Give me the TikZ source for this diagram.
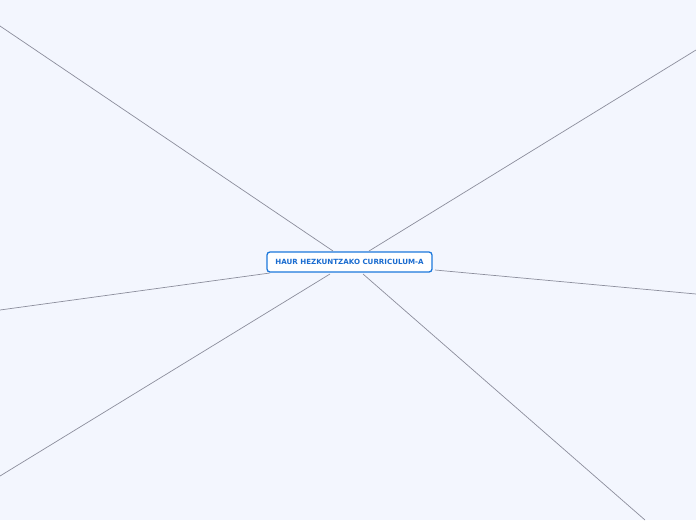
\documentclass[tikz,border=0pt]{standalone}
\usepackage{fontspec}
\setmainfont{DejaVu Sans}
\definecolor{bg}{HTML}{F3F6FE}
\definecolor{nodeblue}{HTML}{1C78DC}
\definecolor{textblue}{HTML}{1A6CD0}
\definecolor{linegray}{HTML}{8C8E9C}
\tikzset{
  mainnode/.style={draw=nodeblue, line width=1.3pt, rounded corners=3pt, fill=white,
    minimum width=165pt, minimum height=20pt, inner sep=0pt,
    text=textblue, font=\fontsize{7.1}{8}\selectfont\bfseries},
  branch/.style={draw=linegray, line width=0.7pt}
}
\begin{document}
\begin{tikzpicture}[x=1pt,y=-1pt]
\useasboundingbox[fill=bg] (0,0) rectangle (696,520);
\node[mainnode] (c) at (349.5,262) {HAUR HEZKUNTZAKO CURRICULUM-A};
\coordinate (a1) at (0,26);   \coordinate (b1) at (333,251);
\coordinate (a2) at (696,50); \coordinate (b2) at (369,251);
\coordinate (a3) at (0,310);  \coordinate (b3) at (270,273);
\coordinate (a4) at (0,476);  \coordinate (b4) at (330,274);
\coordinate (a5) at (696,294);\coordinate (b5) at (435,270);
\coordinate (a6) at (645,520);\coordinate (b6) at (363,274);
\foreach \i in {1,...,6} {\draw[branch] (a\i) -- (b\i);}
\end{tikzpicture}
\end{document}
